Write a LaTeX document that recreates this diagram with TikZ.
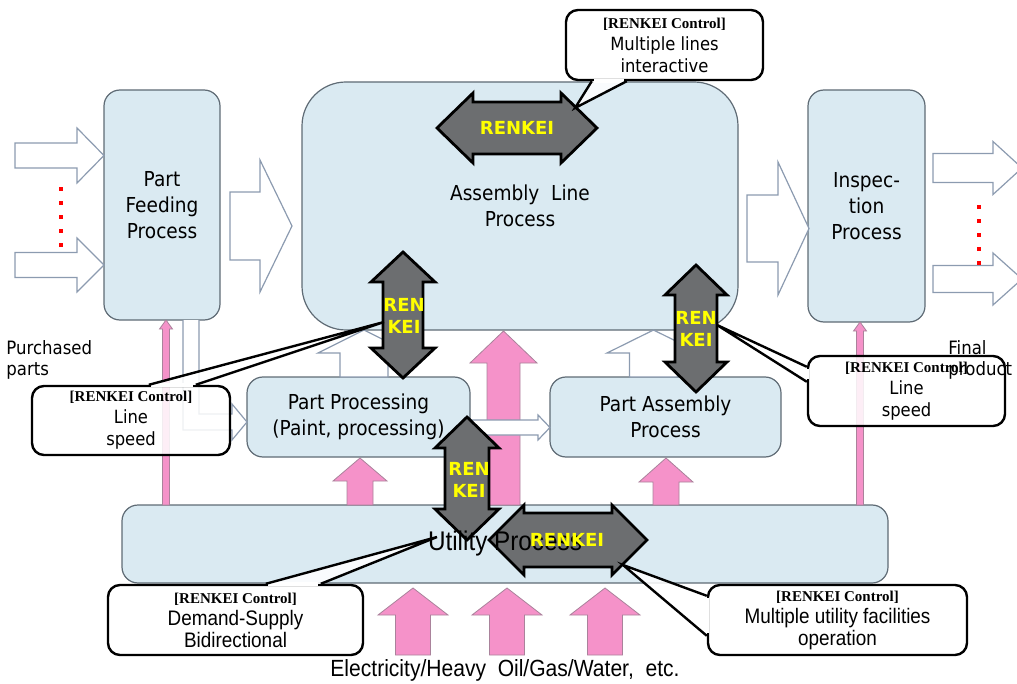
\documentclass[tikz,border=0pt]{standalone}
\usepackage{fontspec}
\setmainfont{DejaVu Sans}[FakeStretch=0.9]
\newfontfamily\narrowfont{Liberation Sans}[FakeStretch=0.9]
\newfontfamily\ctlfont{Liberation Serif}
\newfontfamily\renfont{DejaVu Sans}
\usepackage{tikz}
\usetikzlibrary{positioning,calc}

\definecolor{boxfill}{RGB}{218,234,242}
\definecolor{boxedge}{RGB}{95,107,117}
\definecolor{outedge}{RGB}{140,155,176}
\definecolor{pinkfill}{RGB}{245,146,201}
\definecolor{pinkedge}{RGB}{170,130,155}
\definecolor{renkeigray}{RGB}{108,110,112}
\definecolor{renkeiyellow}{RGB}{255,255,0}

% double arrow: name, x, y, angle, half length, head length, half head, half shaft
\newcommand{\dblarrow}[8]{%
  \begin{scope}[shift={(#2,#3)}, rotate=#4]
    \draw[renkei] (-#5,0) -- (-#5+#6,-#7) -- (-#5+#6,-#8) -- (#5-#6,-#8)
      -- (#5-#6,-#7) -- (#5,0) -- (#5-#6,#7) -- (#5-#6,#8)
      -- (-#5+#6,#8) -- (-#5+#6,#7) -- cycle;
    \coordinate (#1) at (0,0);
  \end{scope}}
% up arrow: style, x, tip y, head y, base y, half head, half shaft
\newcommand{\uparrowshape}[7]{%
  \draw[#1] (#2,#3) -- (#2+#6,#4) -- (#2+#7,#4) -- (#2+#7,#5)
    -- (#2-#7,#5) -- (#2-#7,#4) -- (#2-#6,#4) -- cycle;}
% right arrow: tail x, tip x, mid y, head length, half head, half shaft
\newcommand{\outarrowright}[6]{%
  \draw[outarrow] (#1,#3-#6) -- (#2-#4,#3-#6) -- (#2-#4,#3-#5) -- (#2,#3)
    -- (#2-#4,#3+#5) -- (#2-#4,#3+#6) -- (#1,#3+#6) -- cycle;}
% callout pointer: base a, base b, tip
\newcommand{\pointer}[3]{%
  \fill[white, fill opacity=.85] (#1) -- (#3) -- (#2) -- cycle;
  \draw[white, line width=1.8pt, shorten <=1.2pt, shorten >=1.2pt] (#1) -- (#2);
  \draw[pointerline] (#1) -- (#3) -- (#2);}
\newcommand{\ctl}{{\ctlfont\bfseries\fontsize{7.5}{11}\selectfont [RENKEI Control]}}

\begin{document}
\begin{tikzpicture}[x=0.5pt, y=-0.5pt,
    proc/.style={draw=boxedge, fill=boxfill, line width=0.6pt, rounded corners=8pt,
      inner sep=0pt, align=center, font=\fontsize{10.3}{13}\selectfont},
    callout/.style={draw=black, line width=1.2pt, fill=white, fill opacity=.85,
      text opacity=1, rounded corners=6pt, inner sep=0pt, align=center,
      font=\fontsize{9.1}{11}\selectfont},
    narrowcallout/.style={callout, font=\narrowfont\fontsize{10.5}{11}\selectfont},
    renkei/.style={draw=black, fill=renkeigray, line width=1.4pt, line join=miter},
    rentext/.style={text=renkeiyellow, inner sep=0pt, align=center,
      font=\renfont\bfseries\fontsize{9}{11}\selectfont},
    pinkarrow/.style={fill=pinkfill, draw=pinkedge, line width=0.4pt},
    outarrow/.style={fill=white, draw=outedge, line width=0.6pt},
    pointerline/.style={line width=1.2pt, line join=miter},
    textlabel/.style={inner sep=0pt, font=\fontsize{9.2}{10.5}\selectfont}]
  \useasboundingbox (0,0) rectangle (1017,684);

  % process boxes
  \node[proc, minimum width=58pt, minimum height=115pt] (feed) at (162,205) {Part\\Feeding\\Process};
  \node[proc, rounded corners=22pt, minimum width=218pt, minimum height=124pt] (assy) at (520,206) {Assembly~ Line\\Process};
  \node[proc, minimum width=58.5pt, minimum height=116pt] (insp) at (866.5,206) {Inspec-\\tion\\Process};
  \node[proc, minimum width=111.5pt, minimum height=40pt] (pproc) at (358.5,417) {Part Processing\\(Paint, processing)};
  \node[proc, minimum width=115.5pt, minimum height=40pt] (passy) at (665.5,417) {Part Assembly\\Process};
  \node[proc, minimum width=383pt, minimum height=39pt] (util) at (505,544) {};

  % utility supply
  \uparrowshape{pinkarrow}{166}{320}{329}{505}{6.5}{3.5}
  \uparrowshape{pinkarrow}{860}{322}{331}{505}{6.5}{3.5}
  \uparrowshape{pinkarrow}{503.5}{331}{363}{505}{33.5}{16.5}
  \uparrowshape{pinkarrow}{360}{458}{481}{505}{27}{13}
  \uparrowshape{pinkarrow}{666}{458}{482}{505}{27}{13}
  \foreach \px in {413,507,605}{
    \uparrowshape{pinkarrow}{\px}{588}{615}{655}{35}{17.5}
  }

  % material flow
  \outarrowright{15}{104}{155.5}{27}{27.5}{12.5}
  \outarrowright{15}{104}{265}{27}{27}{12.5}
  \outarrowright{230}{292}{226}{32}{66}{34}
  \outarrowright{747}{809}{228.5}{31}{66.5}{33.5}
  \outarrowright{933}{1022}{168}{29}{26.5}{14.5}
  \outarrowright{933}{1022}{279}{29}{26}{13.5}
  \outarrowright{470}{550}{427.5}{12}{12.5}{7.5}
  \uparrowshape{outarrow}{364}{330}{353}{377}{46}{24}
  \uparrowshape{outarrow}{653.5}{330}{353}{377}{46.5}{24}
  \draw[outarrow] (183,320) -- (183,430) -- (232,430) -- (232,440) -- (247,422)
    -- (232,404) -- (232,414) -- (199,414) -- (199,320);
  \foreach \dy in {187,201,215,229,243}
    \fill[red] (59,\dy) rectangle ++(4,4);
  \foreach \dy in {205,219,233,247,261}
    \fill[red] (977,\dy) rectangle ++(4,4);

  % RENKEI arrows
  \dblarrow{rkTop}{517}{128}{0}{80}{36}{35}{26}
  \dblarrow{rkLeft}{403}{315}{90}{63}{30}{32}{20}
  \dblarrow{rkRight}{696}{328.5}{90}{63.5}{30}{31}{21}
  \dblarrow{rkMid}{467}{478.5}{90}{61.5}{31}{32}{22}
  \dblarrow{rkUtil}{568}{540}{0}{79}{35}{35}{27}
  \node[inner sep=0pt, font=\narrowfont\fontsize{13.5}{16}\selectfont] (utilText) at (util) {Utility Process};
  \node[rentext] (rtTop) at (rkTop) {RENKEI};
  \node[rentext] (rtLeft) at (404,316) {REN\\KEI};
  \node[rentext] (rtRight) at (696,329) {REN\\KEI};
  \node[rentext] (rtMid) at (469,480) {REN\\KEI};
  \node[rentext] (rtUtil) at (567,540) {RENKEI};

  % callouts
  \coordinate (tipTop) at (575,108);
  \coordinate (tipLeft) at (384,322);
  \coordinate (tipRight) at (717,325);
  \coordinate (tipMid) at (437,537);
  \coordinate (tipUtil) at (623,565);
  \node[callout, minimum width=98.5pt, minimum height=35pt] (cTop) at (664.5,45) {\ctl\\Multiple lines\\interactive};
  \pointer{$(cTop.south west)+(27,0)$}{$(cTop.south west)+(62,0)$}{tipTop}
  \node[callout, minimum width=99pt, minimum height=34.5pt] (cLeft) at (131,420.5) {\ctl\\Line\\speed};
  \pointer{$(cLeft.north west)+(118,0)$}{$(cLeft.north west)+(165,0)$}{tipLeft}
  \node[callout, minimum width=98.5pt, minimum height=35pt] (cRight) at (906.5,391) {\ctl\\Line\\speed};
  \pointer{$(cRight.north west)+(0,12)$}{$(cRight.north west)+(0,27)$}{tipRight}
  \node[narrowcallout, minimum width=127.5pt, minimum height=35pt] (cMid) at (235.5,620) {\ctl\\Demand-Supply\\Bidirectional};
  \pointer{$(cMid.north west)+(159,0)$}{$(cMid.north west)+(214,0)$}{tipMid}
  \node[narrowcallout, minimum width=129.5pt, minimum height=35pt] (cUtil) at (837.5,620) {\ctl\\Multiple utility facilities\\operation};
  \pointer{$(cUtil.north west)+(0,12)$}{$(cUtil.north west)+(0,52)$}{tipUtil}

  % labels
  \node[textlabel, anchor=west, align=left] (purch) at (6,360) {Purchased\\parts};
  \node[textlabel, anchor=west, align=left] (final) at (948,360) {Final\\product};
  \node[inner sep=0pt, font=\narrowfont\fontsize{11.7}{14}\selectfont] (energy) at (505,670) {Electricity/Heavy\ \ Oil/Gas/Water,\ \ etc.};
\end{tikzpicture}
\end{document}
